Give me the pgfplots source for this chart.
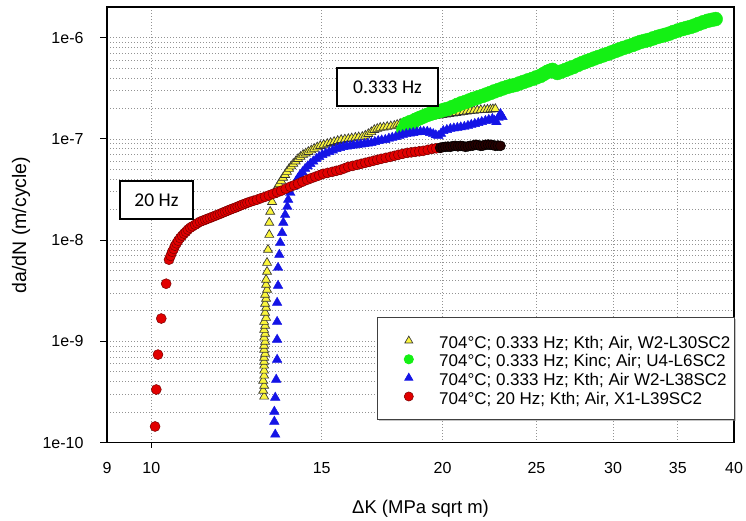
\documentclass[border=0pt]{standalone}
\usepackage{fontspec}
\setmainfont{Liberation Sans}
\newfontfamily\carlito{Carlito}
\usepackage{pgfplots}
\pgfplotsset{compat=1.18}
\usetikzlibrary{shadows}
\definecolor{yel}{RGB}{250,245,60}
\definecolor{grn}{RGB}{20,240,20}
\definecolor{blu}{RGB}{20,20,230}
\definecolor{rd}{RGB}{225,0,0}
\definecolor{rdedge}{RGB}{120,0,0}
\pgfplotsset{mk/.style={only marks,
  legend image code/.code={\path (-27pt,-3pt) (30pt,3pt);
    \draw[##1,mark size=4.6pt,mark repeat=2,mark phase=2]
      plot coordinates {(-1pt,0pt) (0pt,0pt) (1pt,0pt)};}}}
\begin{document}
\begin{tikzpicture}
\useasboundingbox (0,0) rectangle (746pt,521pt);
\begin{axis}[at={(107pt,78.5pt)}, anchor=south west,
  scale only axis, width=627pt, height=435.2pt,
  xmode=log, ymode=log, xmin=9, xmax=40, ymin=1e-10, ymax=2e-6,
  clip=false,
  xtick={9,10,15,20,25,30,35,40}, xticklabels={9,10,15,20,25,30,35,40},
  minor xtick={},
  ytick={1e-10,1e-9,1e-8,1e-7,1e-6}, yticklabels={1e-10,1e-9,1e-8,1e-7,1e-6},
  minor ytick={2e-10,3e-10,4e-10,5e-10,6e-10,7e-10,8e-10,9e-10,
    2e-9,3e-9,4e-9,5e-9,6e-9,7e-9,8e-9,9e-9,
    2e-8,3e-8,4e-8,5e-8,6e-8,7e-8,8e-8,9e-8,
    2e-7,3e-7,4e-7,5e-7,6e-7,7e-7,8e-7,9e-7},
  xmajorgrids, ymajorgrids, yminorgrids,
  grid style={gray!85, dash pattern=on 0.8pt off 2.2pt, line width=0.8pt},
  minor grid style={gray!85, dash pattern=on 0.8pt off 2.2pt, line width=0.8pt},
  tick pos=left, tick align=outside,
  major tick length=7pt, minor tick length=0pt,
  xtick style={draw=none},
  ytick style={black, line width=1pt},
  axis line style={black, line width=1.6pt},
  tick label style={font=\fontsize{16}{19}\selectfont},
  xticklabel style={yshift=-9.5pt},
  yticklabel style={xshift=-13pt},
  xlabel={ΔK (MPa sqrt m)}, ylabel={da/dN (m/cycle)},
  every axis x label/.style={at={(axis description cs:0.5,-0.1528)}, anchor=center,
    font=\fontsize{18.5}{22}\selectfont},
  every axis y label/.style={at={(axis description cs:-0.137,0.5)}, anchor=center, rotate=90,
    font=\fontsize{19.5}{22}\selectfont},
  legend cell align=left,
  legend style={at={(0.4306,0.2884)}, anchor=north west, fill=white,
    draw=black!75, line width=0.8pt,
    drop shadow={shadow xshift=1.5pt, shadow yshift=-1.5pt, fill=black!45},
    font=\fontsize{17}{19}\selectfont, inner xsep=4pt, inner ysep=14pt,
    row sep=0pt, column sep=0pt,
    nodes={inner xsep=0pt, inner ysep=0pt, text height=17pt, text depth=1.6pt}},
]
% 704C 0.333 Hz Kth W2-L30SC2
\addplot[mk, mark=triangle*, mark size=5.2pt, draw=black!80, fill=yel, line width=0.65pt] coordinates {
 (13.08,2.85e-10) (13.05,3.26e-10) (13.08,3.65e-10) (13.05,4.09e-10) (13.08,4.59e-10)
 (13.08,5.14e-10) (13.08,5.76e-10) (13.08,6.30e-10) (13.08,6.90e-10) (13.11,7.56e-10)
 (13.08,8.28e-10) (13.08,9.07e-10) (13.11,9.93e-10) (13.08,1.09e-9) (13.11,1.19e-9)
 (13.08,1.30e-9) (13.11,1.43e-9) (13.08,1.56e-9) (13.14,1.71e-9) (13.11,1.92e-9)
 (13.14,2.15e-9) (13.11,2.36e-9) (13.14,2.64e-9) (13.11,2.89e-9) (13.17,3.24e-9)
 (13.14,3.63e-9) (13.14,4.07e-9) (13.17,4.88e-9) (13.17,5.98e-9) (13.20,8.04e-9)
 (13.24,1.13e-8) (13.24,1.49e-8) (13.27,1.91e-8) (13.33,2.39e-8)
 (13.36,2.81e-8) (13.42,3.05e-8) (13.49,3.29e-8) (13.55,3.57e-8) (13.62,3.86e-8)
 (13.68,4.14e-8) (13.75,4.42e-8) (13.81,4.74e-8) (13.88,5.07e-8) (13.95,5.37e-8)
 (14.02,5.68e-8) (14.10,6.00e-8) (14.18,6.36e-8) (14.26,6.66e-8) (14.35,6.97e-8)
 (14.44,7.20e-8) (14.53,7.46e-8) (14.63,7.72e-8) (14.73,7.99e-8) (14.84,8.27e-8)
 (14.95,8.55e-8) (15.07,8.75e-8) (15.20,8.95e-8) (15.32,9.15e-8) (15.45,9.36e-8)
 (15.58,9.58e-8) (15.71,9.80e-8) (15.85,9.90e-8) (15.98,1.00e-7) (16.11,1.015e-7)
 (16.25,1.03e-7) (16.38,1.04e-7) (16.52,1.05e-7) (16.64,1.08e-7) (16.76,1.12e-7)
 (16.88,1.17e-7) (17.00,1.23e-7) (17.12,1.26e-7) (17.24,1.29e-7) (17.38,1.30e-7)
 (17.53,1.32e-7) (17.68,1.335e-7) (17.83,1.35e-7) (17.95,1.38e-7) (18.08,1.41e-7)
 (18.23,1.44e-7) (18.39,1.47e-7) (18.54,1.50e-7) (18.70,1.54e-7) (18.85,1.58e-7)
 (19.01,1.62e-7) (19.17,1.635e-7) (19.33,1.65e-7) (19.50,1.67e-7) (19.66,1.69e-7)
 (19.82,1.71e-7) (19.99,1.73e-7) (20.15,1.75e-7) (20.32,1.77e-7) (20.49,1.79e-7)
 (20.66,1.81e-7) (20.83,1.83e-7) (21.01,1.85e-7) (21.18,1.87e-7) (21.36,1.89e-7)
 (21.54,1.905e-7) (21.72,1.92e-7) (21.90,1.93e-7) (22.09,1.94e-7) (22.25,1.95e-7)
 (22.41,1.96e-7) (22.54,1.97e-7) (22.67,1.98e-7)};
\addlegendentry{704°C; 0.333 Hz; Kth; Air, W2-L30SC2}
% 704C 0.333 Hz Kinc U4-L6SC2
\addplot[mk, mark=*, mark size=7pt, draw=grn, fill=grn] coordinates {
 (18.21,1.23e-7) (18.28,1.30e-7) (18.40,1.32e-7) (18.34,1.41e-7) (18.52,1.47e-7)
 (18.60,1.40e-7) (18.74,1.54e-7) (18.86,1.58e-7) (18.97,1.62e-7) (19.12,1.67e-7)
 (19.28,1.73e-7) (19.42,1.77e-7) (19.56,1.81e-7) (19.72,1.85e-7) (19.89,1.89e-7)
 (20.06,1.94e-7) (20.23,1.98e-7) (20.47,2.07e-7) (20.71,2.17e-7) (20.91,2.25e-7)
 (21.11,2.32e-7) (21.31,2.40e-7) (21.52,2.49e-7) (21.75,2.57e-7) (21.98,2.66e-7)
 (22.19,2.75e-7) (22.41,2.85e-7) (22.62,2.95e-7) (22.84,3.05e-7) (23.08,3.16e-7)
 (23.33,3.27e-7) (23.55,3.35e-7) (23.78,3.42e-7) (24.01,3.54e-7) (24.24,3.66e-7)
 (24.50,3.79e-7) (24.76,3.92e-7) (25.00,4.06e-7) (25.24,4.20e-7) (25.45,4.40e-7)
 (25.66,4.60e-7) (25.82,4.72e-7) (25.97,4.81e-7) (26.12,4.62e-7) (26.28,4.49e-7)
 (26.53,4.64e-7) (26.79,4.81e-7) (27.04,4.98e-7) (27.30,5.15e-7) (27.60,5.40e-7)
 (27.89,5.64e-7) (28.16,5.84e-7) (28.43,6.04e-7) (28.70,6.25e-7) (28.98,6.46e-7)
 (29.29,6.69e-7) (29.60,6.92e-7) (29.88,7.16e-7) (30.17,7.41e-7) (30.46,7.67e-7)
 (30.75,7.93e-7) (31.08,8.20e-7) (31.42,8.49e-7) (31.72,8.79e-7) (32.02,9.09e-7)
 (32.33,9.30e-7) (32.64,9.51e-7) (33.00,9.85e-7) (33.35,1.02e-6) (33.67,1.045e-6)
 (33.99,1.07e-6) (34.31,1.10e-6) (34.64,1.14e-6) (35.01,1.18e-6) (35.39,1.22e-6)
 (35.73,1.25e-6) (36.07,1.28e-6) (36.42,1.32e-6) (36.77,1.37e-6) (37.16,1.42e-6)
 (37.56,1.47e-6) (37.92,1.50e-6) (38.29,1.53e-6)};
\addlegendentry{704°C; 0.333 Hz; Kinc; Air; U4-L6SC2}
% 704C 0.333 Hz Kth W2-L38SC2
\addplot[mk, mark=triangle*, mark size=5.5pt, draw=blu, fill=blu] coordinates {
 (13.43,1.20e-10) (13.40,1.61e-10) (13.40,2.02e-10) (13.43,2.78e-10) (13.46,4.19e-10)
 (13.49,6.60e-10) (13.49,1.04e-9) (13.49,1.56e-9) (13.49,2.41e-9) (13.52,3.55e-9)
 (13.52,5.34e-9) (13.56,7.18e-9) (13.59,9.42e-9) (13.65,1.18e-8) (13.69,1.49e-8)
 (13.75,1.78e-8) (13.82,2.14e-8) (13.85,2.51e-8) (13.92,2.94e-8) (14.02,3.37e-8)
 (14.07,3.60e-8) (14.12,3.86e-8) (14.18,4.10e-8) (14.25,4.42e-8) (14.33,4.70e-8)
 (14.42,5.07e-8) (14.51,5.37e-8) (14.60,5.68e-8) (14.70,6.00e-8) (14.81,6.36e-8)
 (14.91,6.66e-8) (15.02,6.97e-8) (15.14,7.20e-8) (15.27,7.46e-8) (15.40,7.72e-8)
 (15.53,7.99e-8) (15.66,8.17e-8) (15.79,8.36e-8) (15.92,8.45e-8) (16.05,8.55e-8)
 (16.18,8.65e-8) (16.32,8.75e-8) (16.46,8.85e-8) (16.60,8.95e-8) (16.74,9.05e-8)
 (16.88,9.15e-8) (17.02,9.36e-8) (17.16,9.58e-8) (17.30,9.70e-8) (17.45,9.80e-8)
 (17.60,1.01e-7) (17.74,1.03e-7) (17.89,1.05e-7) (18.04,1.07e-7) (18.19,1.095e-7)
 (18.34,1.12e-7) (18.50,1.135e-7) (18.65,1.15e-7) (18.81,1.165e-7) (18.97,1.18e-7)
 (19.12,1.18e-7) (19.28,1.18e-7) (19.42,1.15e-7) (19.56,1.12e-7) (19.68,1.09e-7)
 (19.80,1.07e-7) (19.92,1.13e-7) (20.03,1.20e-7) (20.20,1.23e-7) (20.37,1.26e-7)
 (20.54,1.275e-7) (20.71,1.29e-7) (20.88,1.305e-7) (21.06,1.32e-7) (21.24,1.35e-7)
 (21.41,1.38e-7) (21.59,1.41e-7) (21.77,1.44e-7) (21.95,1.475e-7) (22.14,1.51e-7)
 (22.32,1.545e-7) (22.51,1.58e-7) (22.62,1.52e-7) (22.73,1.47e-7) (22.84,1.62e-7)
 (22.90,1.70e-7) (22.95,1.77e-7) (23.06,1.65e-7)};
\addlegendentry{704°C; 0.333 Hz; Kth; Air W2-L38SC2}
% 704C 20 Hz Kth X1-L39SC2
\addplot[mk, mark=*, mark size=5pt, draw=rdedge, fill=rd, line width=0.5pt] coordinates {
 (10.09,1.44e-10) (10.12,3.34e-10) (10.16,7.39e-10) (10.24,1.68e-9) (10.36,3.71e-9)
 (10.43,6.41e-9) (10.47,7.00e-9) (10.51,7.68e-9) (10.55,8.20e-9) (10.58,8.81e-9)
 (10.62,9.30e-9) (10.66,9.87e-9) (10.71,1.05e-8) (10.76,1.105e-8) (10.81,1.16e-8)
 (10.86,1.21e-8) (10.91,1.27e-8) (10.97,1.326e-8) (11.03,1.37e-8) (11.10,1.42e-8)
 (11.16,1.47e-8) (11.23,1.52e-8) (11.30,1.555e-8) (11.37,1.59e-8) (11.43,1.625e-8)
 (11.50,1.66e-8) (11.57,1.70e-8) (11.64,1.74e-8) (11.71,1.78e-8) (11.78,1.82e-8)
 (11.85,1.865e-8) (11.92,1.91e-8) (11.99,1.955e-8) (12.06,2.00e-8) (12.13,2.045e-8)
 (12.21,2.09e-8) (12.28,2.14e-8) (12.35,2.19e-8) (12.42,2.24e-8) (12.50,2.29e-8)
 (12.57,2.34e-8) (12.65,2.39e-8) (12.75,2.45e-8) (12.86,2.51e-8) (12.98,2.595e-8)
 (13.11,2.68e-8) (13.23,2.77e-8) (13.36,2.87e-8) (13.49,2.97e-8) (13.62,3.07e-8)
 (13.77,3.22e-8) (13.92,3.37e-8) (14.05,3.49e-8) (14.18,3.61e-8) (14.33,3.78e-8)
 (14.49,3.95e-8) (14.63,4.09e-8) (14.77,4.23e-8) (14.91,4.37e-8) (15.05,4.52e-8)
 (15.21,4.62e-8) (15.38,4.73e-8) (15.53,4.84e-8) (15.68,4.95e-8) (15.83,5.12e-8)
 (15.98,5.30e-8) (16.15,5.42e-8) (16.32,5.55e-8) (16.48,5.68e-8) (16.64,5.81e-8)
 (16.80,5.94e-8) (16.96,6.08e-8) (17.12,6.22e-8) (17.28,6.36e-8) (17.47,6.51e-8)
 (17.66,6.66e-8) (17.83,6.81e-8) (18.00,6.97e-8) (18.19,7.13e-8) (18.39,7.29e-8)
 (18.56,7.37e-8) (18.74,7.46e-8) (18.92,7.55e-8) (19.10,7.63e-8) (19.31,7.81e-8)
 (19.52,7.99e-8) (19.70,8.08e-8) (19.89,8.17e-8)};
\addlegendentry{704°C; 20 Hz; Kth; Air, X1-L39SC2}
% dark tail of the 20 Hz data
\addplot[only marks, forget plot, mark=*, mark size=5pt, draw=black, fill=black!85!red, line width=0.5pt] coordinates {
 (19.89,8.17e-8) (20.01,8.30e-8) (20.13,8.36e-8) (20.25,8.40e-8) (20.37,8.36e-8)
 (20.49,8.50e-8) (20.61,8.55e-8) (20.74,8.45e-8) (20.86,8.55e-8) (20.98,8.50e-8)
 (21.11,8.36e-8) (21.24,8.45e-8) (21.36,8.55e-8) (21.49,8.60e-8) (21.62,8.75e-8)
 (21.75,8.70e-8) (21.88,8.55e-8) (22.01,8.60e-8) (22.14,8.75e-8) (22.28,8.80e-8)
 (22.41,8.75e-8) (22.54,8.70e-8) (22.67,8.55e-8) (22.81,8.60e-8) (22.95,8.55e-8)};
\draw[black, line width=1pt] (axis cs:10,1e-10) -- ++(0pt,-5pt);
\end{axis}
\node[draw=black, line width=1.5pt, fill=white, minimum width=101pt, minimum height=38pt,
  font=\carlito\fontsize{19.5}{22}\selectfont] at (387.5pt,434pt) {0.333 Hz};
\node[draw=black, line width=1.5pt, fill=white, minimum width=73pt, minimum height=38pt,
  font=\carlito\fontsize{19.5}{22}\selectfont] at (156.5pt,321pt) {20 Hz};
\end{tikzpicture}
\end{document}
